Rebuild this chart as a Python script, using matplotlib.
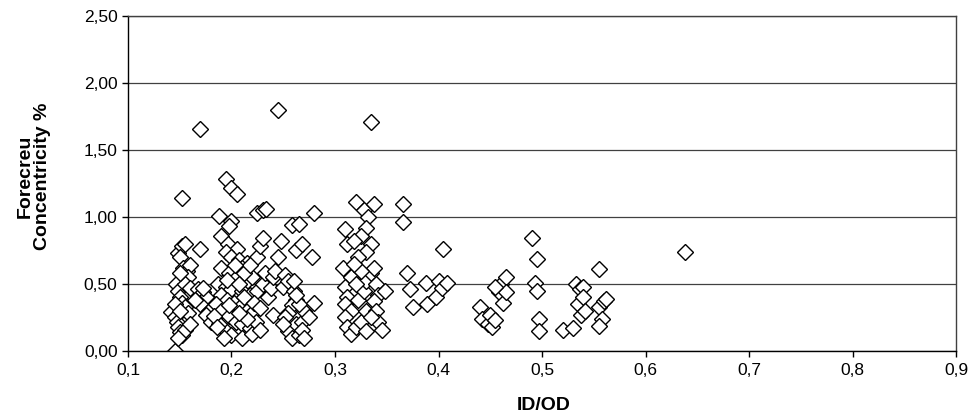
import matplotlib
matplotlib.use("Agg")
import matplotlib.pyplot as plt
from matplotlib.ticker import FuncFormatter

plt.rcParams['font.family'] = ['Liberation Sans', 'DejaVu Sans']

# ID/OD vs forecreu concentricity
id_od = [
    # 0.14 - 0.16
    0.145, 0.142, 0.145, 0.147, 0.148, 0.150, 0.152, 0.155, 0.146, 0.148,
    0.150, 0.152, 0.155, 0.148, 0.152, 0.155, 0.150, 0.153, 0.157, 0.160,
    0.158, 0.155, 0.160, 0.150, 0.152, 0.145, 0.158, 0.160, 0.150, 0.148,
    # 0.165 - 0.18
    0.170, 0.170, 0.168, 0.172, 0.175, 0.170, 0.178, 0.175, 0.180, 0.172, 0.165,
    # 0.18 - 0.25
    0.195, 0.200, 0.205, 0.188, 0.200, 0.198, 0.190, 0.197, 0.205, 0.195,
    0.200, 0.207, 0.215, 0.210, 0.190, 0.198, 0.205, 0.215, 0.220, 0.187,
    0.195, 0.200, 0.210, 0.218, 0.225, 0.190, 0.196, 0.202, 0.208, 0.215,
    0.220, 0.185, 0.190, 0.198, 0.204, 0.210, 0.218, 0.195, 0.200, 0.210,
    0.220, 0.188, 0.183, 0.186, 0.193, 0.212, 0.222, 0.228, 0.230, 0.232,
    0.225, 0.228, 0.230, 0.225, 0.230, 0.233, 0.240, 0.235, 0.238, 0.240,
    0.242, 0.245, 0.245, 0.248, 0.212, 0.218, 0.203, 0.196, 0.207, 0.224,
    0.215, 0.207, 0.198, 0.228,
    # 0.25 - 0.28
    0.250, 0.252, 0.255, 0.258, 0.262, 0.265, 0.268, 0.260, 0.262, 0.258,
    0.255, 0.252, 0.255, 0.258, 0.262, 0.265, 0.268, 0.270, 0.265, 0.262,
    0.260, 0.280, 0.278, 0.280, 0.275, 0.268, 0.250, 0.270,
    # 0.305 - 0.35
    0.310, 0.308, 0.312, 0.320, 0.328, 0.335, 0.338, 0.332, 0.330, 0.325,
    0.318, 0.335, 0.330, 0.322, 0.315, 0.310, 0.312, 0.310, 0.315, 0.310,
    0.312, 0.315, 0.320, 0.325, 0.330, 0.322, 0.328, 0.330, 0.335, 0.338,
    0.340, 0.342, 0.338, 0.340, 0.342, 0.345, 0.348, 0.335, 0.325, 0.318,
    0.320, 0.330,
    # 0.36 - 0.41
    0.366, 0.366, 0.370, 0.372, 0.375, 0.388, 0.389, 0.398, 0.400, 0.403,
    0.408, 0.404,
    # 0.44 - 0.47
    0.440, 0.442, 0.448, 0.450, 0.452, 0.455, 0.458, 0.460, 0.462, 0.465,
    0.465, 0.455,
    # 0.49 - 0.50
    0.490, 0.495, 0.493, 0.495, 0.497, 0.497,
    # 0.52 - 0.56
    0.520, 0.530, 0.533, 0.537, 0.540, 0.535, 0.540, 0.538, 0.542, 0.555,
    0.555, 0.558, 0.555, 0.560, 0.562,
    0.638,
]

concentricity = [
    0.00, 0.29, 0.25, 0.22, 0.18, 0.14, 0.12, 0.16, 0.50, 0.45,
    0.40, 0.36, 0.33, 0.73, 0.78, 0.80, 0.70, 0.62, 0.60, 0.64,
    0.55, 0.50, 0.47, 0.58, 1.14, 0.35, 0.28, 0.20, 0.30, 0.10,
    1.66, 0.76, 0.46, 0.44, 0.40, 0.35, 0.30, 0.27, 0.22, 0.47, 0.38,
    1.28, 1.22, 1.17, 1.01, 0.97, 0.93, 0.86, 0.80, 0.76, 0.74,
    0.70, 0.68, 0.66, 0.62, 0.62, 0.58, 0.55, 0.52, 0.55, 0.50,
    0.48, 0.46, 0.45, 0.42, 0.45, 0.42, 0.38, 0.36, 0.33, 0.30,
    0.28, 0.35, 0.30, 0.26, 0.22, 0.20, 0.17, 0.15, 0.12, 0.10,
    0.13, 0.20, 0.26, 0.18, 0.10, 0.40, 0.36, 0.32, 0.50, 0.58,
    0.70, 0.78, 0.84, 1.03, 1.05, 1.06, 0.27, 0.40, 0.47, 0.55,
    0.60, 0.70, 1.80, 0.82, 0.58, 0.64, 0.64, 0.53, 0.50, 0.22,
    0.24, 0.28, 0.34, 0.16,
    0.48, 0.57, 0.52, 0.94, 0.75, 0.95, 0.80, 0.45, 0.38, 0.34,
    0.28, 0.25, 0.15, 0.10, 0.20, 0.12, 0.22, 0.30, 0.35, 0.42,
    0.52, 1.03, 0.70, 0.36, 0.25, 0.16, 0.20, 0.10,
    0.91, 0.62, 0.80, 1.11, 1.05, 1.71, 1.10, 1.00, 0.92, 0.86,
    0.82, 0.80, 0.74, 0.70, 0.55, 0.48, 0.40, 0.35, 0.30, 0.25,
    0.18, 0.13, 0.18, 0.22, 0.30, 0.38, 0.45, 0.52, 0.58, 0.62,
    0.50, 0.42, 0.37, 0.30, 0.22, 0.16, 0.45, 0.25, 0.60, 0.65,
    0.50, 0.15,
    1.10, 0.96, 0.58, 0.46, 0.33, 0.51, 0.35, 0.40, 0.52, 0.47,
    0.51, 0.76,
    0.33, 0.24, 0.20, 0.27, 0.18, 0.23, 0.44, 0.50, 0.36, 0.55,
    0.44, 0.48,
    0.84, 0.69, 0.51, 0.45, 0.24, 0.15,
    0.16, 0.17, 0.50, 0.46, 0.48, 0.35, 0.40, 0.27, 0.30, 0.61,
    0.33, 0.24, 0.19, 0.37, 0.39,
    0.74,
]

fig = plt.figure(figsize=(9.71, 4.19), dpi=100)
ax = fig.add_axes([0.1318, 0.1623, 0.8528, 0.7995])

ax.plot(id_od, concentricity, linestyle='none', marker='D', markersize=7.8,
        markerfacecolor='white', markeredgecolor='black', markeredgewidth=1.0)

ax.set_xlim(0.1, 0.9)
ax.set_ylim(0, 2.5)
ax.set_xticks([0.1, 0.2, 0.3, 0.4, 0.5, 0.6, 0.7, 0.8, 0.9])
ax.set_yticks([0, 0.5, 1.0, 1.5, 2.0, 2.5])
ax.xaxis.set_major_formatter(FuncFormatter(lambda v, p: f"{v:.1f}".replace('.', ',')))
ax.yaxis.set_major_formatter(FuncFormatter(lambda v, p: f"{v:.2f}".replace('.', ',')))
ax.tick_params(labelsize=12.5, direction='out', length=4, width=1, colors='black')
ax.tick_params(axis='x', pad=5)

ax.yaxis.grid(True, color='#404040', linewidth=0.9)
ax.set_axisbelow(True)
for s in ax.spines.values():
    s.set_color('black')
    s.set_linewidth(1)
ax.spines['top'].set_color('#404040')
ax.spines['right'].set_color('#404040')

fig.text(0.56, 0.033, 'ID/OD', ha='center', va='center', fontsize=14, fontweight='bold')
fig.text(0.035, 0.58, 'Forecreu\nConcentricity %', ha='center', va='center',
         rotation=90, fontsize=14, fontweight='bold', linespacing=1.05)

fig.savefig('out.png', dpi=100)
